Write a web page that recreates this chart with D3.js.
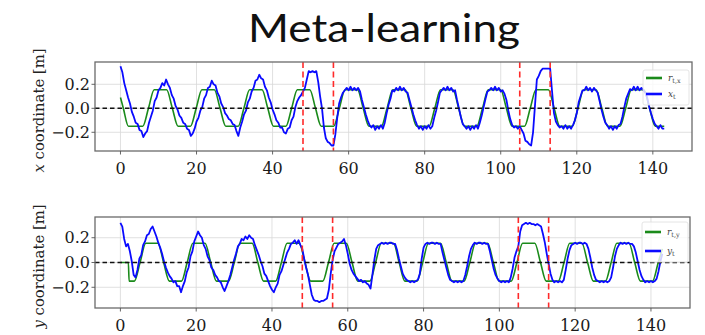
<!DOCTYPE html>
<html>
<head>
<meta charset="utf-8">
<script src="https://cdn.jsdelivr.net/npm/d3@7"></script>
<style>
  body { margin: 0; background: #fff; }
  svg { display: block; }
</style>
</head>
<body>
<div id="chart"></div>
<script>
// sample grid of the tracked trajectories (seconds)
var tStep = 0.5
var tEnd = 143

// disturbance windows (red dashed)
var eventLines = [48, 56, 105, 113]

var xTicks = [0, 20, 40, 60, 80, 100, 120, 140]
var yTicks = [-0.2, 0.0, 0.2]

// reference r_t,x : corner points of the smoothed square wave
var refXTime = [0, 0.75, 2.1,
  5.86, 7.36, 8.86, 12.14, 13.64, 15.14, 18.41, 19.91, 21.41, 24.69, 26.19, 27.69,
  30.96, 32.46, 33.96, 37.24, 38.74, 40.24, 43.51, 45.01, 46.51, 49.79, 51.29, 52.79,
  56.06, 57.56, 59.06, 62.34, 63.84, 65.34, 68.61, 70.11, 71.61, 74.89, 76.39, 77.89,
  81.16, 82.66, 84.16, 87.44, 88.94, 90.44, 93.71, 95.21, 96.71, 99.99, 101.49, 102.99,
  106.26, 107.76, 109.26, 112.54, 114.04, 115.54, 118.81, 120.31, 121.81, 125.09, 126.59, 128.09,
  131.36, 132.86, 134.36, 137.64, 139.14, 140.64, 143]
var refXVal = [0.09, 0, -0.15,
  -0.15, 0, 0.155, 0.155, 0, -0.15, -0.15, 0, 0.155, 0.155, 0, -0.15,
  -0.15, 0, 0.155, 0.155, 0, -0.15, -0.15, 0, 0.155, 0.155, 0, -0.15,
  -0.15, 0, 0.155, 0.155, 0, -0.15, -0.15, 0, 0.155, 0.155, 0, -0.15,
  -0.15, 0, 0.155, 0.155, 0, -0.15, -0.15, 0, 0.155, 0.155, 0, -0.15,
  -0.15, 0, 0.155, 0.155, 0, -0.15, -0.15, 0, 0.155, 0.155, 0, -0.15,
  -0.15, 0, 0.155, 0.155, 0, -0.15, -0.15]

// reference r_t,y
var refYTime = [0, 2.1, 2.3,
  3.69, 5.19, 6.69, 9.91, 11.41, 12.91, 16.12, 17.62, 19.12, 22.34, 23.84, 25.34,
  28.55, 30.05, 31.55, 34.77, 36.27, 37.77, 40.98, 42.48, 43.98, 47.2, 48.7, 50.2,
  53.41, 54.91, 56.41, 59.63, 61.13, 62.63, 65.84, 67.34, 68.84, 72.06, 73.56, 75.06,
  78.27, 79.77, 81.27, 84.49, 85.99, 87.49, 90.7, 92.2, 93.7, 96.92, 98.42, 99.92,
  103.13, 104.63, 106.13, 109.35, 110.85, 112.35, 115.56, 117.06, 118.56, 121.78, 123.28, 124.78,
  127.99, 129.49, 130.99, 134.21, 135.71, 137.21, 140.42, 141.92, 143]
var refYVal = [0, 0, -0.15,
  -0.15, 0, 0.155, 0.155, 0, -0.15, -0.15, 0, 0.155, 0.155, 0, -0.15,
  -0.15, 0, 0.155, 0.155, 0, -0.15, -0.15, 0, 0.155, 0.155, 0, -0.15,
  -0.15, 0, 0.155, 0.155, 0, -0.15, -0.15, 0, 0.155, 0.155, 0, -0.15,
  -0.15, 0, 0.155, 0.155, 0, -0.15, -0.15, 0, 0.155, 0.155, 0, -0.15,
  -0.15, 0, 0.155, 0.155, 0, -0.15, -0.15, 0, 0.155, 0.155, 0, -0.15,
  -0.15, 0, 0.155, 0.155, 0, -0.15, -0.15, 0, 0.11]

// x_t, one value every 0.5 s
var posX = [
  0.35, 0.30, 0.21, 0.15, 0.09, 0.04, -0.03, -0.07, -0.12, -0.13,
  -0.18, -0.19, -0.24, -0.21, -0.19, -0.12, -0.07, -0.02, 0.06, 0.09,
  0.15, 0.17, 0.21, 0.19, 0.24, 0.20, 0.17, 0.11, 0.08, 0.02,
  -0.01, -0.06, -0.08, -0.12, -0.13, -0.17, -0.18, -0.23, -0.21, -0.17,
  -0.11, -0.08, -0.02, 0.01, 0.08, 0.11, 0.17, 0.18, 0.23, 0.20,
  0.19, 0.13, 0.10, 0.04, 0.01, -0.04, -0.06, -0.09, -0.10, -0.13,
  -0.14, -0.19, -0.23, -0.16, -0.11, -0.05, -0.02, 0.05, 0.08, 0.14,
  0.17, 0.23, 0.24, 0.28, 0.25, 0.24, 0.18, 0.15, 0.09, 0.05,
  -0.01, -0.05, -0.10, -0.12, -0.16, -0.16, -0.20, -0.21, -0.17, -0.16,
  -0.10, -0.07, 0.01, 0.06, 0.09, 0.11, 0.14, 0.17, 0.24, 0.31,
  0.30, 0.31, 0.30, 0.31, 0.22, 0.10, 0.00, -0.16, -0.25, -0.28,
  -0.29, -0.31, -0.31, -0.22, -0.08, 0.04, 0.09, 0.13, 0.15, 0.17,
  0.15, 0.18, 0.15, 0.17, 0.15, 0.17, 0.14, 0.07, 0.01, -0.05,
  -0.10, -0.14, -0.16, -0.14, -0.18, -0.15, -0.17, -0.14, -0.17, -0.12,
  -0.04, 0.03, 0.08, 0.15, 0.14, 0.17, 0.15, 0.18, 0.15, 0.17,
  0.14, 0.13, 0.07, 0.01, -0.05, -0.10, -0.14, -0.17, -0.15, -0.18,
  -0.15, -0.17, -0.14, -0.17, -0.15, -0.08, -0.02, 0.05, 0.13, 0.15,
  0.17, 0.15, 0.18, 0.15, 0.17, 0.14, 0.15, 0.07, 0.00, -0.07,
  -0.13, -0.15, -0.17, -0.15, -0.18, -0.15, -0.17, -0.14, -0.17, -0.12,
  -0.06, 0.01, 0.08, 0.14, 0.15, 0.17, 0.15, 0.18, 0.15, 0.17,
  0.14, 0.15, 0.12, 0.07, -0.02, -0.09, -0.14, -0.16, -0.15, -0.17,
  -0.15, -0.18, -0.21, -0.27, -0.28, -0.30, -0.31, -0.20, 0.02, 0.24,
  0.27, 0.31, 0.33, 0.33, 0.33, 0.33, 0.33, 0.14, -0.04, -0.11,
  -0.14, -0.16, -0.15, -0.17, -0.14, -0.17, -0.15, -0.17, -0.14, -0.10,
  -0.04, 0.05, 0.10, 0.15, 0.15, 0.18, 0.15, 0.17, 0.14, 0.17,
  0.15, 0.13, 0.06, -0.01, -0.07, -0.12, -0.14, -0.17, -0.15, -0.18,
  -0.15, -0.17, -0.14, -0.13, -0.07, 0.01, 0.08, 0.12, 0.16, 0.15,
  0.18, 0.15, 0.18, 0.15, 0.17, 0.15, 0.13, 0.09, 0.02, -0.04,
  -0.09, -0.13, -0.15, -0.17, -0.14, -0.17, -0.17]

// y_t, one value every 0.5 s
var posY = [
  0.32, 0.29, 0.19, 0.13, 0.15, 0.09, 0.01, -0.10, -0.12, -0.06,
  0.03, 0.06, 0.14, 0.17, 0.22, 0.23, 0.27, 0.29, 0.25, 0.21,
  0.16, 0.12, 0.07, 0.01, -0.04, -0.08, -0.11, -0.13, -0.16, -0.15,
  -0.19, -0.19, -0.24, -0.19, -0.15, -0.08, -0.04, 0.05, 0.09, 0.17,
  0.21, 0.25, 0.22, 0.20, 0.14, 0.11, 0.05, 0.02, -0.04, -0.06,
  -0.10, -0.12, -0.15, -0.16, -0.20, -0.23, -0.19, -0.15, -0.10, -0.04,
  0.02, 0.07, 0.13, 0.15, 0.19, 0.18, 0.21, 0.19, 0.22, 0.20,
  0.19, 0.14, 0.10, 0.06, 0.01, -0.03, -0.09, -0.11, -0.15, -0.19,
  -0.22, -0.24, -0.20, -0.17, -0.10, -0.07, -0.02, 0.03, 0.08, 0.11,
  0.15, 0.16, 0.18, 0.15, 0.18, 0.14, 0.11, 0.03, -0.04, -0.10,
  -0.18, -0.26, -0.30, -0.31, -0.31, -0.32, -0.31, -0.31, -0.30, -0.29,
  -0.22, -0.09, 0.02, 0.09, 0.12, 0.15, 0.16, 0.17, 0.19, 0.14,
  0.07, -0.01, -0.06, -0.09, -0.11, -0.13, -0.15, -0.14, -0.16, -0.15,
  -0.17, -0.18, -0.21, -0.10, 0.02, 0.11, 0.14, 0.15, 0.16, 0.15,
  0.16, 0.15, 0.16, 0.16, 0.15, 0.15, 0.10, 0.03, -0.03, -0.09,
  -0.12, -0.14, -0.15, -0.16, -0.15, -0.16, -0.15, -0.14, -0.09, 0.03,
  0.12, 0.15, 0.16, 0.15, 0.16, 0.16, 0.15, 0.16, 0.15, 0.15,
  0.08, 0.02, -0.04, -0.10, -0.14, -0.15, -0.16, -0.15, -0.16, -0.15,
  -0.16, -0.15, -0.10, -0.03, 0.05, 0.11, 0.14, 0.16, 0.15, 0.16,
  0.16, 0.15, 0.16, 0.15, 0.15, 0.09, 0.02, -0.05, -0.10, -0.13,
  -0.15, -0.16, -0.15, -0.16, -0.15, -0.16, -0.12, -0.05, 0.04, 0.09,
  0.13, 0.25, 0.30, 0.31, 0.32, 0.31, 0.32, 0.31, 0.31, 0.30,
  0.31, 0.30, 0.29, 0.23, 0.16, 0.07, -0.01, -0.09, -0.14, -0.16,
  -0.15, -0.16, -0.15, -0.16, -0.14, -0.06, 0.03, 0.10, 0.14, 0.15,
  0.16, 0.15, 0.16, 0.16, 0.15, 0.16, 0.15, 0.11, 0.04, -0.04,
  -0.10, -0.14, -0.15, -0.16, -0.15, -0.16, -0.15, -0.16, -0.15, -0.12,
  -0.04, 0.05, 0.11, 0.14, 0.16, 0.15, 0.16, 0.15, 0.16, 0.15,
  0.15, 0.13, 0.08, 0.01, -0.06, -0.11, -0.14, -0.16, -0.15, -0.16,
  -0.15, -0.16, -0.15, -0.13, -0.07, 0.01, 0.07]

var width = 705
var height = 335
var tickFont = "'DejaVu Serif', serif"

var svg = d3.select("#chart").append("svg")
    .attr("width", width)
    .attr("height", height)
    .attr("viewBox", [0, 0, width, height])

// the source figure is a bit stretched sideways, so the title is too
svg.append("text")
    .attr("x", 384)
    .attr("y", 42)
    .attr("text-anchor", "middle")
    .attr("textLength", 272)
    .attr("lengthAdjust", "spacingAndGlyphs")
    .style("font-family", "Lato, 'Open Sans', sans-serif")
    .style("font-size", "39px")
    .attr("fill", "#111")
    .text("Meta-learning")

var times = d3.range(0, tEnd + tStep / 2, tStep)

function drawPanel(p) {
    var x = d3.scaleLinear().domain([-6.7, 150.3]).range([p.left, p.right])
    var y = d3.scaleLinear().domain(p.yDomain).range([p.bottom, p.top])

    var g = svg.append("g")

    g.append("clipPath").attr("id", p.id + "-clip")
      .append("rect")
        .attr("x", p.left).attr("y", p.top)
        .attr("width", p.right - p.left).attr("height", p.bottom - p.top)

    // grid
    g.append("g").selectAll("line").data(xTicks).join("line")
        .attr("x1", d => x(d)).attr("x2", d => x(d))
        .attr("y1", p.top).attr("y2", p.bottom)
        .attr("stroke", "#d8d8d8").attr("stroke-width", 0.8)
    g.append("g").selectAll("line").data(yTicks).join("line")
        .attr("x1", p.left).attr("x2", p.right)
        .attr("y1", d => y(d)).attr("y2", d => y(d))
        .attr("stroke", "#d8d8d8").attr("stroke-width", 0.8)

    var plot = g.append("g").attr("clip-path", "url(#" + p.id + "-clip)")

    var refLine = d3.line()
        .x((d, i) => x(p.refTime[i]))
        .y(d => y(d))
        .curve(d3.curveMonotoneX)
    plot.append("path")
        .attr("d", refLine(p.refVal))
        .attr("fill", "none")
        .attr("stroke", "#1a8a1a")
        .attr("stroke-width", 1.6)

    var posLine = d3.line()
        .x((d, i) => x(times[i]))
        .y(d => y(d))
    plot.append("path")
        .attr("d", posLine(p.pos))
        .attr("fill", "none")
        .attr("stroke", "#0a0aff")
        .attr("stroke-width", 1.8)
        .attr("stroke-linejoin", "round")

    // zero line
    plot.append("line")
        .attr("x1", p.left).attr("x2", p.right)
        .attr("y1", y(0)).attr("y2", y(0))
        .attr("stroke", "#111").attr("stroke-width", 1.5)
        .attr("stroke-dasharray", "4.5,3")

    plot.append("g").selectAll("line").data(eventLines).join("line")
        .attr("x1", d => x(d)).attr("x2", d => x(d))
        .attr("y1", p.top).attr("y2", p.bottom)
        .attr("stroke", "#ff2a2a").attr("stroke-width", 1.6)
        .attr("stroke-dasharray", "6,3.5")

    // frame
    g.append("rect")
        .attr("x", p.left).attr("y", p.top)
        .attr("width", p.right - p.left).attr("height", p.bottom - p.top)
        .attr("fill", "none").attr("stroke", "#6a6a6a").attr("stroke-width", 1.3)

    // ticks
    g.append("g").selectAll("line").data(xTicks).join("line")
        .attr("x1", d => x(d)).attr("x2", d => x(d))
        .attr("y1", p.bottom).attr("y2", p.bottom + 3.5)
        .attr("stroke", "#555").attr("stroke-width", 0.9)
    g.append("g").selectAll("line").data(yTicks).join("line")
        .attr("x1", p.left - 3.5).attr("x2", p.left)
        .attr("y1", d => y(d)).attr("y2", d => y(d))
        .attr("stroke", "#555").attr("stroke-width", 0.9)

    var fmt = d3.format(".1f")
    g.append("g").selectAll("text").data(xTicks).join("text")
        .attr("x", d => x(d))
        .attr("y", p.bottom + 23)
        .attr("text-anchor", "middle")
        .style("font-family", tickFont).style("font-size", "16px")
        .attr("fill", "#1a1a1a")
        .text(d => d)
    g.append("g").selectAll("text").data(yTicks).join("text")
        .attr("x", p.left - 5)
        .attr("y", d => y(d) + 5.5)
        .attr("text-anchor", "end")
        .style("font-family", tickFont).style("font-size", "16px")
        .attr("fill", "#1a1a1a")
        .text(d => fmt(d))

    var cy = (p.top + p.bottom) / 2 + 4
    var lab = g.append("text")
        .attr("transform", `translate(44,${cy}) rotate(-90)`)
        .attr("text-anchor", "middle")
        .attr("textLength", 124)
        .attr("lengthAdjust", "spacingAndGlyphs")
        .style("font-family", tickFont).style("font-size", "15px")
        .attr("fill", "#222")
    lab.append("tspan").style("font-style", "italic").text(p.axis)
    lab.append("tspan").text(" coordinate [m]")

    // legend
    var lg = g.append("g")
    lg.append("rect")
        .attr("x", p.legend[0]).attr("y", p.legend[1])
        .attr("width", 46).attr("height", p.legend[2])
        .attr("rx", 2)
        .attr("fill", "#fff").attr("fill-opacity", 0.8)
        .attr("stroke", "#ddd").attr("stroke-width", 0.8)
    var rows = [
        {color: "#1a8a1a", main: "r", sub: "t," + p.axis, dy: p.legend[3]},
        {color: "#0a0aff", main: p.axis, sub: "t", dy: p.legend[4]}
    ]
    rows.forEach(r => {
        var ly = p.legend[1] + r.dy
        lg.append("line")
            .attr("x1", p.legend[0] + 3).attr("x2", p.legend[0] + 19)
            .attr("y1", ly).attr("y2", ly)
            .attr("stroke", r.color).attr("stroke-width", 2.6)
        var t = lg.append("text")
            .attr("x", p.legend[0] + 25).attr("y", ly + 3)
            .style("font-family", tickFont).style("font-size", "9px")
            .attr("fill", "#444")
        t.append("tspan").style("font-style", "italic").text(r.main)
        t.append("tspan").attr("dy", 2).style("font-size", "6.5px").text(r.sub)
    })
}

drawPanel({
    id: "px", axis: "x",
    left: 95, right: 692, top: 62, bottom: 151,
    yDomain: [-0.356, 0.386],
    refTime: refXTime, refVal: refXVal, pos: posX,
    legend: [643, 70, 35, 8, 24]
})

drawPanel({
    id: "py", axis: "y",
    left: 95, right: 690, top: 217, bottom: 308,
    yDomain: [-0.367, 0.367],
    refTime: refYTime, refVal: refYVal, pos: posY,
    legend: [642, 222, 40, 10, 29]
})
</script>
</body>
</html>
